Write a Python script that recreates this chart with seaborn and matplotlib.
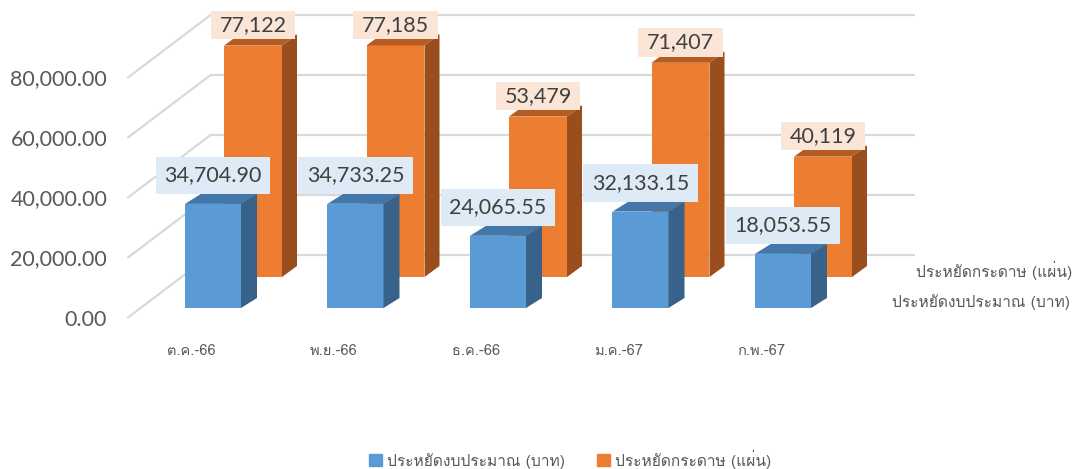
import numpy as np
import pandas as pd
import seaborn as sns
import matplotlib.pyplot as plt
from matplotlib import font_manager, ft2font
from matplotlib.patches import Polygon, Patch
from matplotlib.lines import Line2D
from matplotlib.path import Path

months = ["ต.ค.-66", "พ.ย.-66", "ธ.ค.-66", "ม.ค.-67", "ก.พ.-67"]
budget_saved = [34704.90, 34733.25, 24065.55, 32133.15, 18053.55]
paper_saved = [77122, 77185, 53479, 71407, 40119]
budget_name = "ประหยัดงบประมาณ (บาท)"
paper_name = "ประหยัดกระดาษ (แผ่น)"
yticks = [0, 20000, 40000, 60000, 80000]


def thai_font():
    # first installed regular font that has Thai glyphs
    for f in font_manager.fontManager.ttflist:
        if f.style != "normal" or f.weight not in (400, "normal", "regular"):
            continue
        try:
            if ft2font.FT2Font(f.fname).get_char_index(ord("ป")):
                return f.name
        except Exception:
            pass
    return "DejaVu Sans"


sns.set_style("white")
THAI = thai_font()
plt.rcParams["font.family"] = ["Lato", THAI, "DejaVu Sans"]
thai_family = [THAI, "DejaVu Sans"]
GREY = "#595959"

W, H = 1091, 469
fig = plt.figure(figsize=(W / 100, H / 100), dpi=100)

# pseudo 3D: every depth plane is its own axes, shifted by a few pixels
X0, Y0 = 191, 317.5   # pixel of category 0 / value 0 on the front plane
SX, K = 142.5, 333.33  # pixels per category, units per pixel


def add_plane(box, zorder):
    left, top, right, bottom = box
    ax = fig.add_axes([left / W, 1 - bottom / H, (right - left) / W, (bottom - top) / H],
                      zorder=zorder)
    ax.patch.set_alpha(0)
    for s in ax.spines.values():
        s.set_visible(False)
    return ax


def fit_plane(ax, box, dx, dy):
    left, top, right, bottom = box
    x0, y0 = X0 + dx, Y0 - dy
    ax.set_xlim((left - x0) / SX, (right - x0) / SX)
    ax.set_ylim((y0 - bottom) * K, (y0 - top) * K)


def label_box(padx, pady):
    def box(x0, y0, width, height, mutation_size):
        px, py = padx * mutation_size, pady * mutation_size
        return Path([(x0 - px, y0 - py), (x0 + width + px, y0 - py),
                     (x0 + width + px, y0 + height + py), (x0 - px, y0 + height + py),
                     (x0 - px, y0 - py)], closed=True)
    return box


def draw_row(ax, values, fmt, colors, width, depth, box_color, pady, label_up):
    front, side, top = colors
    df = pd.DataFrame({"month": months, "value": values})
    sns.barplot(data=df, x="month", y="value", color=front, saturation=1,
                width=width, linewidth=0, ax=ax)
    ddx, ddy = depth[0] / SX, depth[1] * K
    for p, v in zip(list(ax.patches), values):
        x0, w, h = p.get_x(), p.get_width(), p.get_height()
        ax.add_patch(Polygon([(x0, h), (x0 + w, h), (x0 + w + ddx, h + ddy), (x0 + ddx, h + ddy)],
                             closed=True, fc=top, ec="none"))
        ax.add_patch(Polygon([(x0 + w, 0), (x0 + w + ddx, ddy), (x0 + w + ddx, h + ddy), (x0 + w, h)],
                             closed=True, fc=side, ec="none"))
        ax.annotate(fmt.format(v), xy=(x0 + w / 2, h), xytext=(0, label_up * 0.72),
                    textcoords="offset points", ha="center", va="center",
                    fontsize=15.5, color="#404040", annotation_clip=False,
                    bbox=dict(boxstyle=label_box(0.4, pady), fc=box_color, ec="none"))
    ax.set_xticks([])
    ax.set_yticks([])
    ax.set_xlabel("")
    ax.set_ylabel("")


full = (0, 0, W, H)

# back wall with gridlines
wall_box = (210, 0, 915, H)
ax_wall = add_plane(wall_box, 0)
ax_wall.set_yticks(yticks)
ax_wall.set_xticks([])
ax_wall.tick_params(left=False, labelleft=False)
ax_wall.grid(axis="y", color="#D9D9D9", lw=1.6)
fit_plane(ax_wall, wall_box, 82, 62)

# back row: paper
ax_paper = add_plane(full, 1)
draw_row(ax_paper, paper_saved, "{:,.0f}", ("#ED7D31", "#9A4E1D", "#B75C21"),
         0.407, (15, 11), "#FBE5D6", 0.2, 11 + 14.5 - 5)
fit_plane(ax_paper, full, 62, 40.5)

# front row: budget
ax_budget = add_plane(full, 2)
draw_row(ax_budget, budget_saved, "{:,.2f}", ("#5B9BD5", "#38628A", "#4377AA"),
         0.393, (16, 10), "#DEEBF7", 0.4, 10 + 18.5)
fit_plane(ax_budget, full, 22, 9.5)

# front plane: axis labels
front_box = (128, 0, W, 340)
ax_front = add_plane(front_box, 3)
ax_front.set_yticks(yticks, [f"{v:,.2f}" for v in yticks])
ax_front.set_xticks(range(len(months)), months)
ax_front.tick_params(axis="y", length=0, pad=15, labelsize=15.5, labelcolor=GREY)
ax_front.tick_params(axis="x", length=0, pad=3, labelsize=10.5, labelcolor=GREY)
for t in ax_front.get_xticklabels():
    t.set_family(thai_family)
fit_plane(ax_front, front_box, 0, 0)

# floor lines from the front edge to the back wall
inv = fig.transFigure.inverted()
for v in yticks:
    p0 = ax_front.transData.transform((ax_front.get_xlim()[0], v))
    p1 = ax_wall.transData.transform((ax_wall.get_xlim()[0], v))
    f0, f1 = inv.transform([p0, p1])
    fig.add_artist(Line2D([f0[0], f1[0]], [f0[1], f1[1]], color="#D9D9D9", lw=1.6, zorder=0.5))

# depth axis labels
fig.text(1072 / W, 1 - 270 / H, paper_name, ha="right", va="center", fontsize=11.2,
         color=GREY, family=thai_family)
fig.text(1070 / W, 1 - 302 / H, budget_name, ha="right", va="center", fontsize=11.2,
         color=GREY, family=thai_family)

handles = [Patch(color="#5B9BD5", label=budget_name), Patch(color="#ED7D31", label=paper_name)]
leg = fig.legend(handles=handles, loc="center", bbox_to_anchor=(570 / W, 1 - 459 / H), ncol=2,
                 frameon=False, handlelength=0.85, handleheight=0.85, handletextpad=0.3,
                 columnspacing=2.1, prop={"family": thai_family, "size": 11.2})
for t in leg.get_texts():
    t.set_color(GREY)

fig.savefig("out.png", dpi=100)
